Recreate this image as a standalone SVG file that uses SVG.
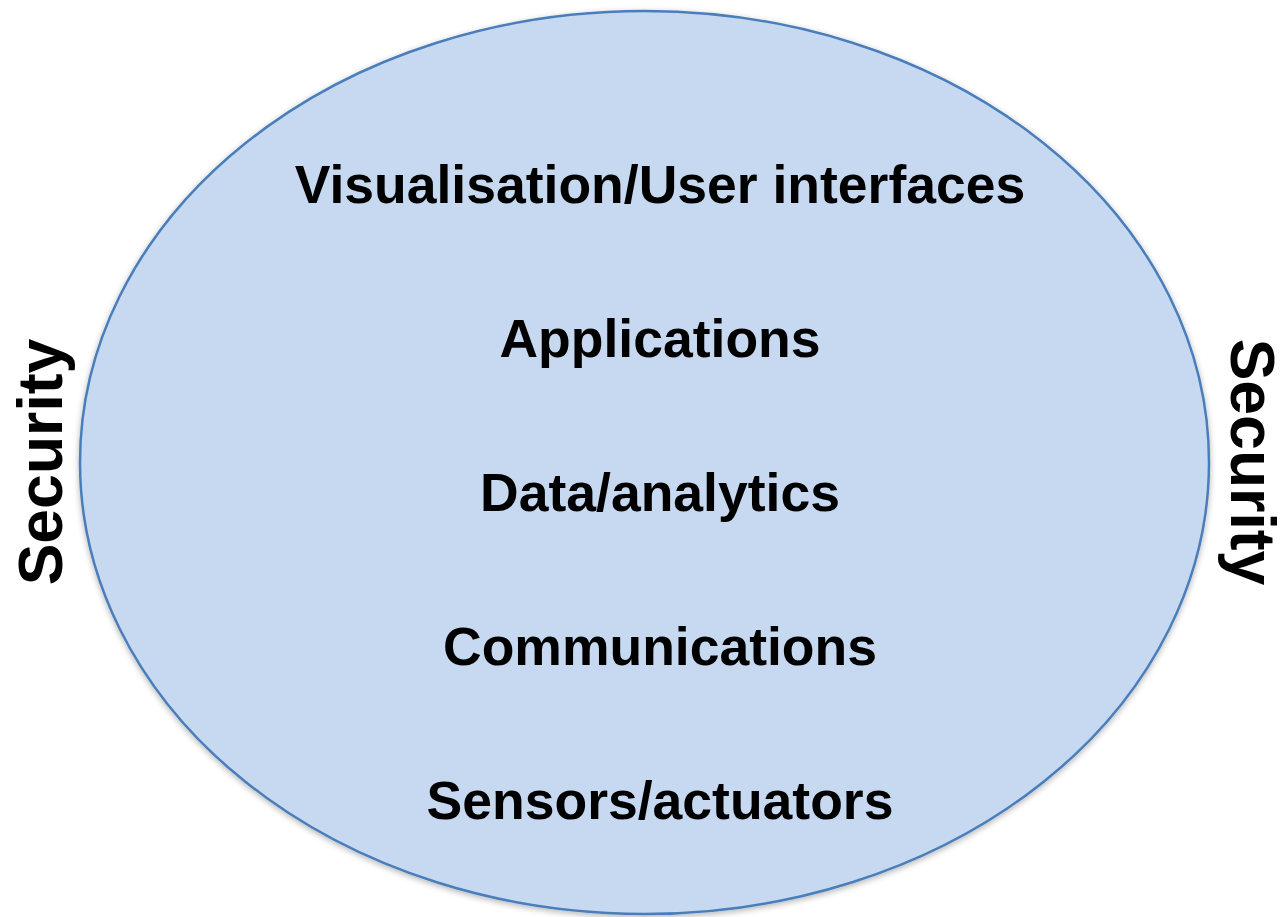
<svg xmlns="http://www.w3.org/2000/svg" width="1284" height="917" viewBox="0 0 1284 917">
<defs>
<filter id="sh" x="-5%" y="-5%" width="110%" height="110%">
<feGaussianBlur in="SourceAlpha" stdDeviation="3"/>
<feOffset dx="0" dy="2"/>
<feComponentTransfer><feFuncA type="linear" slope="0.3"/></feComponentTransfer>
<feMerge><feMergeNode/><feMergeNode in="SourceGraphic"/></feMerge>
</filter>
</defs>
<style>
.t{font-family:"Liberation Sans",Arial,sans-serif;font-weight:bold;fill:#000;text-anchor:middle}
.l{font-size:53.5px}
.s{font-size:62.5px}
</style>
<rect width="1284" height="917" fill="#fff"/>
<g id="circle">
<ellipse cx="644.5" cy="462.5" rx="564.5" ry="451.5" fill="#c6d9f1" stroke="#4a7ebb" stroke-width="2.5" filter="url(#sh)"/>
</g>
<g id="layers">
<text class="t l" x="660" y="203">Visualisation/User interfaces</text>
<text class="t l" x="660" y="357">Applications</text>
<text class="t l" x="660" y="511">Data/analytics</text>
<text class="t l" x="660" y="665">Communications</text>
<text class="t l" x="660" y="819">Sensors/actuators</text>
</g>
<g id="security-left">
<text class="t s" transform="translate(62 462) rotate(-90)">Security</text>
</g>
<g id="security-right">
<text class="t s" transform="translate(1231 462) rotate(90)">Security</text>
</g>
</svg>
